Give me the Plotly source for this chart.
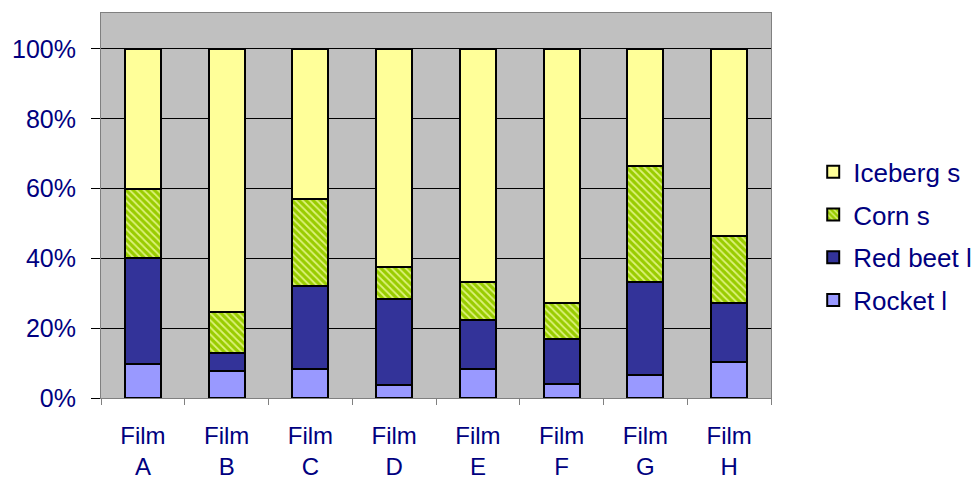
import plotly.graph_objects as go

films = ["Film<br>A", "Film<br>B", "Film<br>C", "Film<br>D",
         "Film<br>E", "Film<br>F", "Film<br>G", "Film<br>H"]

# Share of each product per film (%)
rocket_l = [9.7, 7.7, 8.3, 3.7, 8.3, 4.1, 6.7, 10.2]
red_beet_l = [30.3, 5.1, 23.9, 24.7, 14.1, 12.7, 26.6, 17.1]
corn_s = [20.0, 11.9, 24.7, 9.1, 10.9, 10.3, 33.3, 19.2]
iceberg_s = [40.0, 75.3, 43.1, 62.5, 66.7, 72.9, 33.4, 53.5]

y_ticks = [0, 20, 40, 60, 80, 100]

navy = "#000080"
outline = dict(color="black", width=2)

fig = go.Figure()
fig.add_trace(go.Bar(name="Rocket l", x=films, y=rocket_l, legendgroup="a", legendrank=4,
                     marker=dict(color="#9999FF", line=outline)))
fig.add_trace(go.Bar(name="Red beet l", x=films, y=red_beet_l, legendgroup="b", legendrank=3,
                     marker=dict(color="#333399", line=outline)))
fig.add_trace(go.Bar(name="Corn s", x=films, y=corn_s, legendgroup="c", legendrank=2,
                     marker=dict(color="#99CC00", line=outline,
                                 pattern=dict(shape="\\", bgcolor="#99CC00",
                                              fgcolor="#DDF27A", fgopacity=1,
                                              size=5, solidity=0.35))))
fig.add_trace(go.Bar(name="Iceberg s", x=films, y=iceberg_s, legendgroup="d", legendrank=1,
                     marker=dict(color="#FFFF99", line=outline)))

fig.update_layout(
    width=979, height=484,
    barmode="stack",
    bargap=0.57,
    paper_bgcolor="white",
    plot_bgcolor="#C0C0C0",
    margin=dict(l=101, r=208, t=13, b=86, autoexpand=False),
    font=dict(family="Liberation Sans, Arial, sans-serif", color=navy, size=22),
    legend=dict(
        x=1.063, xanchor="left", y=0.42, yanchor="middle",
        traceorder="grouped", tracegroupgap=6,
        font=dict(size=26, color=navy),
        bgcolor="rgba(0,0,0,0)",
    ),
    showlegend=True,
)

fig.update_xaxes(
    type="category",
    tickson="boundaries",
    ticks="outside", ticklen=6, tickcolor="#808080",
    showline=True, linecolor="#808080", linewidth=1, mirror=True,
    showgrid=False,
    ticklabelstandoff=16,
    tickfont=dict(size=24, color=navy),
)
fig.update_yaxes(
    range=[0, 110.3],
    tickvals=y_ticks,
    ticktext=[f"{v}%" for v in y_ticks],
    ticks="outside", ticklen=9, tickcolor="black",
    showline=True, linecolor="#808080", linewidth=1, mirror=True,
    showgrid=True, gridcolor="black", gridwidth=1,
    zeroline=False,
    ticklabelstandoff=10,
    tickfont=dict(size=25, color=navy),
)

fig.write_html("out.html")
